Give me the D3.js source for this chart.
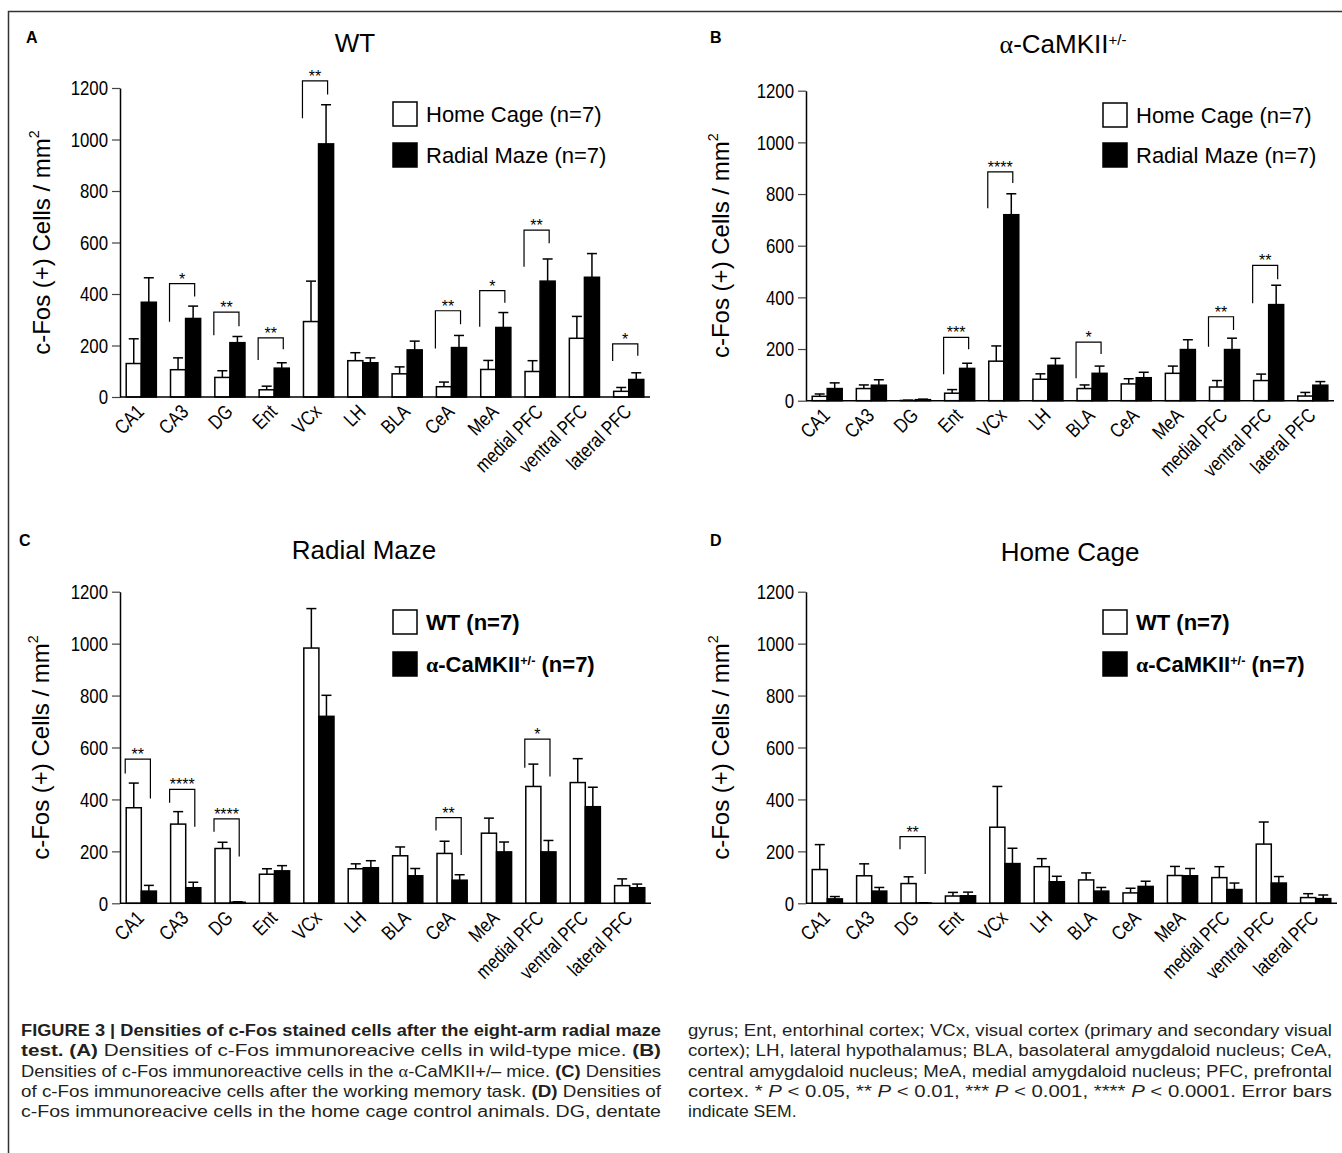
<!DOCTYPE html>
<html><head><meta charset="utf-8">
<script src="https://cdn.jsdelivr.net/npm/d3@7"></script>
<style>body{margin:0;background:#fff}svg{display:block}</style>
</head><body>
<svg id="fig" width="1342" height="1153"></svg>
<script>
// ---------------- DATA ----------------
const categories = ["CA1","CA3","DG","Ent","VCx","LH","BLA","CeA","MeA","medial PFC","ventral PFC","lateral PFC"];
const yTicks = [0,200,400,600,800,1000,1200];

// WT, home cage
const wtHome    = [130,106, 76, 28,293,141, 90, 40,107, 99,228, 22];
const wtHomeSem = [ 96, 46, 26, 14,157, 31, 27, 18, 35, 42, 85, 15];
// WT, radial maze
const wtMaze    = [368,305,211,112,983,133,183,192,270,450,465, 68];
const wtMazeSem = [ 95, 48, 24, 21,152, 19, 34, 47, 58, 86, 92, 26];
// alpha-CaMKII+/-, home cage
const koHome    = [ 17, 47,  1, 29,153, 83, 47, 65,106, 53, 78, 18];
const koHomeSem = [  9, 14,  1, 14, 59, 21, 14, 20, 28, 25, 25, 14];
// alpha-CaMKII+/-, radial maze
const koMaze    = [ 47, 60,  4,125,720,137,106, 89,198,198,372, 60];
const koMazeSem = [ 22, 21,  2, 20, 81, 27, 28, 21, 38, 44, 75, 14];

const legendCondition = ["Home Cage (n=7)", "Radial Maze (n=7)"];
const legendGenotype  = ["WT (n=7)", "α-CaMKII+/- (n=7)"];
const panelTitles = ["WT", "α-CaMKII+/-", "Radial Maze", "Home Cage"];
const panelLetters = ["A","B","C","D"];

// significance brackets: category, stars, bracket top, left-leg end, right-leg end (y units)
const bracketsA = [
  {cat:"CA3", stars:"*",  top:440, left:292, right:390},
  {cat:"DG",  stars:"**", top:330, left:240, right:275},
  {cat:"Ent", stars:"**", top:230, left:144, right:185},
  {cat:"VCx", stars:"**", top:1228, left:1083, right:1175},
  {cat:"CeA", stars:"**", top:335, left:188, right:283},
  {cat:"MeA", stars:"*",  top:413, left:273, right:366},
  {cat:"medial PFC", stars:"**", top:648, left:506, right:597},
  {cat:"lateral PFC", stars:"*", top:206, left:140, right:160}
];
const bracketsB = [
  {cat:"Ent", stars:"***", top:245, left:102, right:199},
  {cat:"VCx", stars:"****", top:886, left:745, right:843},
  {cat:"BLA", stars:"*", top:227, left:87, right:181},
  {cat:"medial PFC", stars:"**", top:325, left:209, right:274},
  {cat:"ventral PFC", stars:"**", top:524, left:377, right:470}
];
const bracketsC = [
  {cat:"CA1", stars:"**", top:555, left:500, right:404},
  {cat:"CA3", stars:"****", top:439, left:387, right:295},
  {cat:"DG",  stars:"****", top:325, left:276, right:180},
  {cat:"CeA", stars:"**", top:330, left:280, right:186},
  {cat:"medial PFC", stars:"*", top:632, left:522, right:488}
];
const bracketsD = [
  {cat:"DG", stars:"**", top:257, left:208, right:113}
];

// ---------------- DRAWING ----------------
const FONT = "'Liberation Sans', Arial, Helvetica, sans-serif";
const svg = d3.select("#fig");

function squash(sel, f) {
  sel.each(function () {
    const L = this.getComputedTextLength();
    d3.select(this).attr("textLength", L * f).attr("lengthAdjust", "spacingAndGlyphs");
  });
}

// writes a label, rendering "α" in a serif face and "+/-" as superscript
function richLabel(textSel, str) {
  const parts = str.split(/(α|\+\/-)/).filter(s => s.length);
  let raised = false;
  parts.forEach(p => {
    if (p === "α") textSel.append("tspan").attr("font-family", "'Liberation Serif', 'Times New Roman', serif").text("α");
    else if (p === "+/-") { textSel.append("tspan").attr("font-size", "58%").attr("dy", "-0.55em").text("+/-"); raised = true; }
    else {
      const t = textSel.append("tspan").text(p);
      if (raised) { t.attr("dy", "0.32em"); raised = false; }
    }
  });
}

// frame
svg.append("path").attr("d", "M8.5,1153 V11.5 H1342").attr("fill", "none")
  .attr("stroke", "#333").attr("stroke-width", 1.5);

const panels = [
  {i:0, xr:[120,650], yr:[397,88],  tx:355,  ty:52,  lx:26,  ly:43,  ylx:50,  lg:[393,102,143],
   series:[[wtHome,wtHomeSem,"#fff"],[wtMaze,wtMazeSem,"#000"]], legend:legendCondition, bold:false, br:bracketsA},
  {i:1, xr:[806,1334], yr:[400.7,90.7], tx:1063, ty:53, lx:710, ly:43, ylx:729, lg:[1103,103,143],
   series:[[koHome,koHomeSem,"#fff"],[koMaze,koMazeSem,"#000"]], legend:legendCondition, bold:false, br:bracketsB},
  {i:2, xr:[120,651], yr:[903.3,591.7], tx:364, ty:559, lx:19, ly:546, ylx:49, lg:[393,610,652],
   series:[[wtMaze,wtMazeSem,"#fff"],[koMaze,koMazeSem,"#000"]], legend:legendGenotype, bold:true, br:bracketsC},
  {i:3, xr:[806,1337], yr:[903.3,591.7], tx:1070, ty:561, lx:710, ly:546, ylx:729, lg:[1103,610,652],
   series:[[wtHome,wtHomeSem,"#fff"],[koHome,koHomeSem,"#000"]], legend:legendGenotype, bold:true, br:bracketsD}
];

panels.forEach(p => {
  const g = svg.append("g");
  const x = d3.scaleBand().domain(categories).range(p.xr).paddingInner(0.32).paddingOuter(0.14);
  const x1 = d3.scaleBand().domain([0, 1]).range([0, x.bandwidth()]);
  const y = d3.scaleLinear().domain([0, 1200]).range(p.yr);

  // bars + error bars
  p.series.forEach(([vals, sems, fill], si) => {
    const cx = (c) => x(c) + x1(si) + x1.bandwidth() / 2;
    g.append("g").selectAll("line").data(categories).join("line")
      .attr("x1", c => cx(c)).attr("x2", c => cx(c))
      .attr("y1", (c, k) => y(vals[k])).attr("y2", (c, k) => y(vals[k] + sems[k]))
      .attr("stroke", "#000").attr("stroke-width", 1.5);
    g.append("g").selectAll("line").data(categories).join("line")
      .attr("x1", c => cx(c) - 5).attr("x2", c => cx(c) + 5)
      .attr("y1", (c, k) => y(vals[k] + sems[k])).attr("y2", (c, k) => y(vals[k] + sems[k]))
      .attr("stroke", "#000").attr("stroke-width", 1.5);
    g.append("g").selectAll("rect").data(categories).join("rect")
      .attr("x", c => x(c) + x1(si)).attr("width", x1.bandwidth())
      .attr("y", (c, k) => y(vals[k])).attr("height", (c, k) => y(0) - y(vals[k]))
      .attr("fill", fill).attr("stroke", "#000").attr("stroke-width", 1.5);
  });

  // y axis
  const ya = g.append("g").attr("transform", `translate(${p.xr[0]},0)`)
    .call(d3.axisLeft(y).tickValues(yTicks).tickFormat(d3.format("d")).tickSize(8).tickSizeOuter(0).tickPadding(4));
  ya.select(".domain").attr("stroke", "#000").attr("stroke-width", 1.5);
  ya.selectAll(".tick line").attr("stroke", "#444").attr("stroke-width", 1.2);
  ya.selectAll(".tick text").attr("font-family", FONT).attr("font-size", 21).attr("fill", "#000").call(squash, 0.8);

  // x axis line
  g.append("line").attr("x1", p.xr[0]).attr("x2", p.xr[1]).attr("y1", y(0)).attr("y2", y(0))
    .attr("stroke", "#000").attr("stroke-width", 1.5);

  // category labels
  g.append("g").selectAll("text").data(categories).join("text")
    .attr("transform", c => `translate(${x(c) + x.bandwidth() / 2 + 4},${y(0) + 16}) rotate(-45)`)
    .attr("text-anchor", "end").attr("font-family", FONT).attr("font-size", 20).text(c => c)
    .call(squash, 0.82);

  // y axis title
  const yt = g.append("text")
    .attr("transform", `translate(${p.ylx},${(p.yr[0] + p.yr[1]) / 2}) rotate(-90)`)
    .attr("text-anchor", "middle").attr("font-family", FONT).attr("font-size", 24);
  yt.append("tspan").text("c-Fos (+) Cells / mm");
  yt.append("tspan").attr("font-size", "60%").attr("dy", "-0.75em").text("2");

  // title
  const tt = g.append("text").attr("x", p.tx).attr("y", p.ty).attr("text-anchor", "middle")
    .attr("font-family", FONT).attr("font-size", 26);
  richLabel(tt, panelTitles[p.i]);

  // panel letter
  g.append("text").attr("x", p.lx).attr("y", p.ly).attr("font-family", FONT)
    .attr("font-weight", "bold").attr("font-size", 16).text(panelLetters[p.i]);

  // legend
  p.legend.forEach((lab, k) => {
    const by = p.lg[1 + k];
    g.append("rect").attr("x", p.lg[0]).attr("y", by).attr("width", 24).attr("height", 24)
      .attr("fill", k === 0 ? "#fff" : "#000").attr("stroke", "#000").attr("stroke-width", 1.5);
    const lt = g.append("text").attr("x", p.lg[0] + 33).attr("y", by + 20)
      .attr("font-family", FONT).attr("font-size", 22).attr("font-weight", p.bold ? "bold" : "normal");
    richLabel(lt, lab);
  });

  // significance brackets
  p.br.forEach(b => {
    const xl = x(b.cat) - 1, xr = x(b.cat) + x.bandwidth() - 6;
    g.append("path")
      .attr("d", `M${xl},${y(b.left)} V${y(b.top)} H${xr} V${y(b.right)}`)
      .attr("fill", "none").attr("stroke", "#000").attr("stroke-width", 1.2);
    g.append("text").attr("x", (xl + xr) / 2).attr("y", y(b.top) + 1).attr("text-anchor", "middle")
      .attr("font-family", FONT).attr("font-size", 16).text(b.stars);
  });
});

// ---------------- CAPTION ----------------
const captionLeft = [
  [["b","FIGURE 3 | Densities of c-Fos stained cells after the eight-arm radial maze"]],
  [["b","test. (A)"],["r"," Densities of c-Fos immunoreacive cells in wild-type mice. "],["b","(B)"]],
  [["r","Densities of c-Fos immunoreactive cells in the "],["s","α"],["r","-CaMKII+/– mice. "],["b","(C)"],["r"," Densities"]],
  [["r","of c-Fos immunoreacive cells after the working memory task. "],["b","(D)"],["r"," Densities of"]],
  [["r","c-Fos immunoreacive cells in the home cage control animals. DG, dentate"]]
];
const captionRight = [
  [["r","gyrus; Ent, entorhinal cortex; VCx, visual cortex (primary and secondary visual"]],
  [["r","cortex); LH, lateral hypothalamus; BLA, basolateral amygdaloid nucleus; CeA,"]],
  [["r","central amygdaloid nucleus; MeA, medial amygdaloid nucleus; PFC, prefrontal"]],
  [["r","cortex. * "],["i","P"],["r"," < 0.05, ** "],["i","P"],["r"," < 0.01, *** "],["i","P"],["r"," < 0.001, **** "],["i","P"],["r"," < 0.0001. Error bars"]],
  [["r","indicate SEM."]]
];
function drawCaption(lines, x0, width, lastJustified) {
  let factor = 1;
  lines.forEach((segs, li) => {
    const t = svg.append("text").attr("x", x0).attr("y", 1036 + li * 20.3)
      .attr("font-family", FONT).attr("font-size", 16).attr("fill", "#231f20");
    segs.forEach(([k, s]) => {
      const ts = t.append("tspan").text(s);
      if (k === "b") ts.attr("font-weight", "bold");
      if (k === "i") ts.attr("font-style", "italic");
      if (k === "s") ts.attr("font-family", "'Liberation Serif', serif");
    });
    const L = t.node().getComputedTextLength();
    const justify = li < lines.length - 1 || lastJustified;
    if (justify) { t.attr("textLength", width).attr("lengthAdjust", "spacingAndGlyphs"); if (li === 0) factor = width / L; }
    else t.attr("textLength", L * Math.min(factor, 1.1)).attr("lengthAdjust", "spacingAndGlyphs");
  });
}
drawCaption(captionLeft, 21, 640, true);
drawCaption(captionRight, 688, 644, false);
</script>
</body></html>
